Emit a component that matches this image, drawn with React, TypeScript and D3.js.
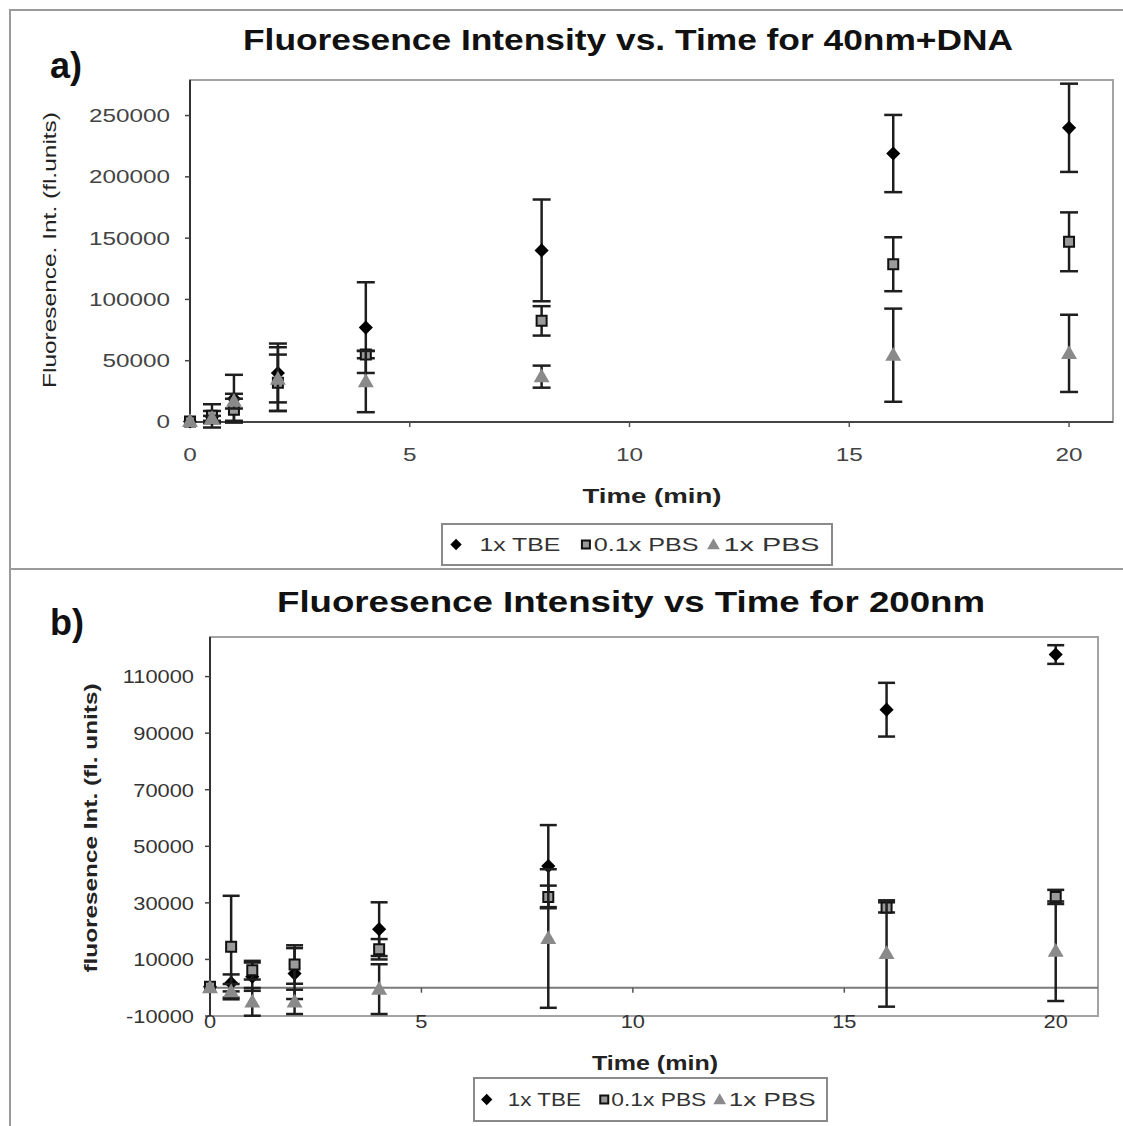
import React from "react";
import * as d3 from "d3";

const FONT = "'Liberation Sans', Arial, Helvetica, sans-serif";

// ---------- data ----------
const times = [0, 0.5, 1, 2, 4, 8, 16, 20];
const seriesLabels = ["1x TBE", "0.1x PBS", "1x PBS"];

// Panel a) 40nm+DNA
const aTBE = [500, 4000, 19000, 40000, 77000, 140000, 219000, 240000];
const aTBEErr = [0, 5000, 19500, 24000, 37000, 41500, 31500, 36000];
const aPBS01 = [500, 5000, 10000, 32000, 55000, 82500, 128700, 147000];
const aPBS01Err = [0, 9500, 9000, 23000, 3000, 12000, 22000, 24000];
const aPBS1 = [500, 3000, 17000, 35000, 33000, 37000, 54500, 56000];
const aPBS1Err = [0, 2000, 6000, 26000, 25000, 9000, 38000, 31500];

// Panel b) 200nm
const bTBE = [300, 1700, 3900, 5000, 20700, 43000, 98300, 117800];
const bTBEErr = [0, 3000, 5000, 9000, 9500, 14500, 9500, 3300];
const bPBS01 = [300, 14500, 6200, 8200, 13600, 32100, 28400, 32100];
const bPBS01Err = [0, 18000, 3300, 6800, 3600, 4000, 1800, 2500];
const bPBS1 = [0, -1400, -5000, -5000, -500, 17400, 12100, 12900];
const bPBS1Err = [0, 2700, 4900, 4300, 8800, 24500, 18800, 17600];

const xTicks = [0, 5, 10, 15, 20];
const aYTicks = [0, 50000, 100000, 150000, 200000, 250000];
const bYTicks = [-10000, 10000, 30000, 50000, 70000, 90000, 110000];

const aTitle = "Fluoresence Intensity vs. Time for 40nm+DNA";
const bTitle = "Fluoresence Intensity vs Time for 200nm";
const aYLabel = "Fluoresence. Int. (fl.units)";
const bYLabel = "fluoresence Int. (fl. units)";
const xLabel = "Time (min)";

type Kind = "diamond" | "square" | "triangle";
const kinds: Kind[] = ["diamond", "square", "triangle"];

function Marker({ kind, x, y, s = 1 }: { kind: Kind; x: number; y: number; s?: number }) {
  if (kind === "diamond") {
    const p = d3.symbol(d3.symbolSquare, 100 * s * s)();
    return <path d={p || ""} transform={`translate(${x},${y}) rotate(45)`} fill="#000" />;
  }
  if (kind === "square") {
    const p = d3.symbol(d3.symbolSquare, 100 * s * s)();
    return <path d={p || ""} transform={`translate(${x},${y})`} fill="#9a9a9a" stroke="#111" strokeWidth={2} />;
  }
  const p = d3.symbol(d3.symbolTriangle, 110 * s * s)();
  return <path d={p || ""} transform={`translate(${x},${y + 1})`} fill="#8a8a8a" />;
}

type PanelCfg = {
  left: number; right: number; top: number; bottom: number;
  yDomain: [number, number];
  yTicks: number[];
  series: { v: number[]; e: number[] }[];
  tickSize: number; tickSx: number; tickRight: number; tickColor: string;
  xTickBaseline: number;
  title: string; titleX: number; titleY: number; titleLen: number; titleSize: number;
  letter: string; letterY: number;
  yLabel: string; yLabelX: number; yLabelY: number; yLabelLen: number; yLabelWeight: string; yLabelSize: number;
  xLabelX: number; xLabelY: number; xLabelLen: number;
  legend: { x: number; y: number; w: number; h: number; f: number; sx: number };
  capHalf: number;
  zeroLine: boolean;
};

function Panel({ c }: { c: PanelCfg }) {
  const x = d3.scaleLinear().domain([0, 21]).range([c.left, c.right]);
  const y = d3.scaleLinear().domain(c.yDomain).range([c.bottom, c.top]);
  const axisY = c.zeroLine ? y(0) : c.bottom;
  const lg = c.legend;
  // legend layout offsets (fractions of legend width)
  const items = [
    { k: kinds[0], m: 0.036, t: 0.096, len: 0.207 },
    { k: kinds[1], m: 0.369, t: 0.389, len: 0.269 },
    { k: kinds[2], m: 0.696, t: 0.722, len: 0.246 },
  ];
  return (
    <g>
      {/* title */}
      <text x={c.titleX} y={c.titleY} fontFamily={FONT} fontWeight="bold" fontSize={c.titleSize}
        textLength={c.titleLen} lengthAdjust="spacingAndGlyphs" fill="#111">{c.title}</text>
      <text x={50} y={c.letterY} fontFamily={FONT} fontWeight="bold" fontSize={36} fill="#111">{c.letter}</text>

      {/* plot area border */}
      <rect x={c.left} y={c.top} width={c.right - c.left} height={c.bottom - c.top} fill="#fff" stroke="#a3a3a3" strokeWidth={2} />
      {c.zeroLine && (
        <line x1={c.left} x2={c.right} y1={axisY} y2={axisY} stroke="#7a7a7a" strokeWidth={2} />
      )}
      {/* axes */}
      <line x1={c.left} x2={c.left} y1={c.top} y2={c.bottom} stroke="#333" strokeWidth={2} />
      {!c.zeroLine && <line x1={c.left} x2={c.right} y1={c.bottom} y2={c.bottom} stroke="#444" strokeWidth={2} />}

      {/* y ticks */}
      {c.yTicks.map((t) => (
        <g key={t}>
          <line x1={c.left - 5} x2={c.left} y1={y(t)} y2={y(t)} stroke="#444" strokeWidth={1.5} />
          <text transform={`translate(${c.tickRight},${y(t) + c.tickSize * 0.36}) scale(${c.tickSx},1)`}
            textAnchor="end" fontFamily={FONT} fontSize={c.tickSize} fill={c.tickColor}>{t}</text>
        </g>
      ))}
      {/* x ticks */}
      {xTicks.map((t) => (
        <g key={t}>
          {t > 0 && <line x1={x(t)} x2={x(t)} y1={axisY} y2={axisY + 5} stroke="#555" strokeWidth={1.5} />}
          <text transform={`translate(${x(t)},${c.xTickBaseline}) scale(${c.tickSx},1)`}
            textAnchor="middle" fontFamily={FONT} fontSize={c.tickSize} fill={c.tickColor}>{t}</text>
        </g>
      ))}

      {/* series */}
      {c.series.map((s, si) => (
        <g key={si}>
          {times.map((t, i) =>
            s.e[i] > 0 ? (
              <g key={i} stroke="#1e1e1e" strokeWidth={2.5}>
                <line x1={x(t)} x2={x(t)} y1={y(s.v[i] - s.e[i])} y2={y(s.v[i] + s.e[i])} />
                <line x1={x(t) - c.capHalf} x2={x(t) + c.capHalf} y1={y(s.v[i] + s.e[i])} y2={y(s.v[i] + s.e[i])} />
                <line x1={x(t) - c.capHalf} x2={x(t) + c.capHalf} y1={y(s.v[i] - s.e[i])} y2={y(s.v[i] - s.e[i])} />
              </g>
            ) : null
          )}
          {times.map((t, i) => (
            <Marker key={"m" + i} kind={kinds[si]} x={x(t)} y={y(s.v[i])} />
          ))}
        </g>
      ))}

      {/* axis titles */}
      <text x={c.xLabelX} y={c.xLabelY} textAnchor="middle" fontFamily={FONT} fontWeight="bold" fontSize={20}
        textLength={c.xLabelLen} lengthAdjust="spacingAndGlyphs" fill="#222">{xLabel}</text>
      <text transform={`translate(${c.yLabelX},${c.yLabelY}) rotate(-90)`} textAnchor="middle" fontFamily={FONT}
        fontWeight={c.yLabelWeight} fontSize={c.yLabelSize} textLength={c.yLabelLen} lengthAdjust="spacingAndGlyphs"
        fill="#222">{c.yLabel}</text>

      {/* legend */}
      <rect x={lg.x} y={lg.y} width={lg.w} height={lg.h} fill="#fff" stroke="#8a8a8a" strokeWidth={2} />
      {items.map((it, i) => (
        <g key={i}>
          <Marker kind={it.k} x={lg.x + it.m * lg.w} y={lg.y + lg.h / 2} s={0.8} />
          <text x={lg.x + it.t * lg.w} y={lg.y + lg.h / 2 + lg.f * 0.36} fontFamily={FONT} fontSize={lg.f}
            textLength={it.len * lg.w} lengthAdjust="spacingAndGlyphs" fill="#333">{seriesLabels[i]}</text>
        </g>
      ))}
    </g>
  );
}

const panelA: PanelCfg = {
  left: 190, right: 1113, top: 80, bottom: 422,
  yDomain: [0, 279000],
  yTicks: aYTicks,
  series: [
    { v: aTBE, e: aTBEErr },
    { v: aPBS01, e: aPBS01Err },
    { v: aPBS1, e: aPBS1Err },
  ],
  tickSize: 18, tickSx: 1.35, tickRight: 170, tickColor: "#444",
  xTickBaseline: 461,
  title: aTitle, titleX: 243, titleY: 50, titleLen: 770, titleSize: 29,
  letter: "a)", letterY: 78,
  yLabel: aYLabel, yLabelX: 56, yLabelY: 250, yLabelLen: 276, yLabelWeight: "normal", yLabelSize: 19,
  xLabelX: 652, xLabelY: 503, xLabelLen: 139,
  legend: { x: 442, y: 524, w: 390, h: 41, f: 18, sx: 1.35 },
  capHalf: 9,
  zeroLine: false,
};

const panelB: PanelCfg = {
  left: 210, right: 1098, top: 637, bottom: 1016,
  yDomain: [-10000, 124000],
  yTicks: bYTicks,
  series: [
    { v: bTBE, e: bTBEErr },
    { v: bPBS01, e: bPBS01Err },
    { v: bPBS1, e: bPBS1Err },
  ],
  tickSize: 19, tickSx: 1.15, tickRight: 194, tickColor: "#333",
  xTickBaseline: 1028,
  title: bTitle, titleX: 277, titleY: 612, titleLen: 708, titleSize: 29,
  letter: "b)", letterY: 635,
  yLabel: bYLabel, yLabelX: 97, yLabelY: 828, yLabelLen: 289, yLabelWeight: "bold", yLabelSize: 19,
  xLabelX: 655, xLabelY: 1070, xLabelLen: 126,
  legend: { x: 474, y: 1078, w: 353, h: 43, f: 18, sx: 1.2 },
  capHalf: 8.5,
  zeroLine: true,
};

export default function App() {
  return (
    <svg width={1123} height={1126} style={{ position: "absolute", left: 0, top: 0, background: "#fff" }}>
      <rect x={0} y={0} width={1123} height={1126} fill="#fff" />
      {/* outer panel frames */}
      <rect x={10} y={10} width={1130} height={559} fill="none" stroke="#9a9a9a" strokeWidth={2} />
      <line x1={10} x2={10} y1={569} y2={1130} stroke="#9a9a9a" strokeWidth={2} />
      <Panel c={panelA} />
      <Panel c={panelB} />
    </svg>
  );
}
